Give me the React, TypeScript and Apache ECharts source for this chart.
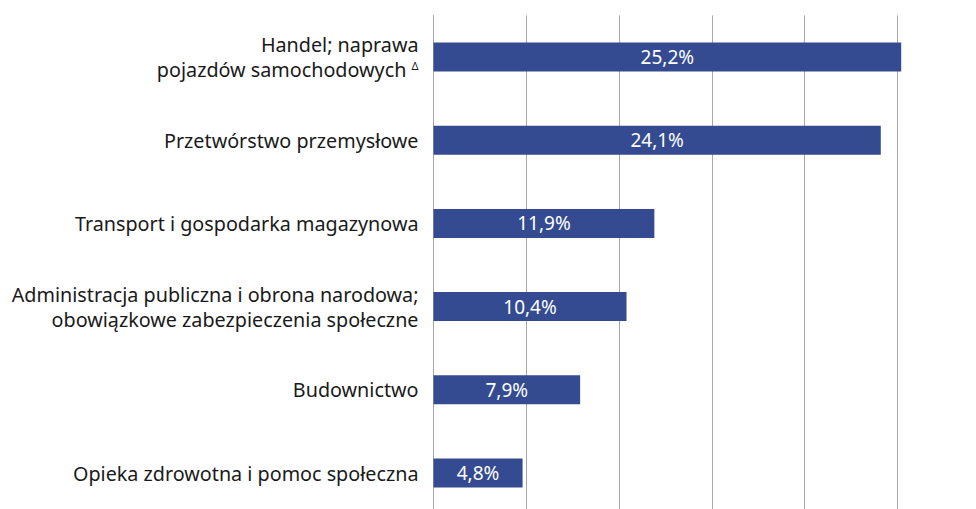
import React, { useEffect, useRef } from "react";
import * as echarts from "echarts";

const categories = [
  "Handel; naprawa\npojazdów samochodowych {sup|Δ}",
  "Przetwórstwo przemysłowe",
  "Transport i gospodarka magazynowa",
  "Administracja publiczna i obrona narodowa;\nobowiązkowe zabezpieczenia społeczne",
  "Budownictwo",
  "Opieka zdrowotna i pomoc społeczna",
];
const values = [25.2, 24.1, 11.9, 10.4, 7.9, 4.8];

const FONT = "'Noto Sans', sans-serif";

export default function App() {
  const ref = useRef<HTMLDivElement>(null);
  useEffect(() => {
    if (!ref.current) return;
    const chart = echarts.init(ref.current, undefined, { renderer: "svg" });
    chart.setOption({
      animation: false,
      grid: { left: 433.5, right: 78.5, top: 15.4, bottom: 0.4, containLabel: false },
      xAxis: {
        type: "value",
        min: 0,
        max: 25,
        interval: 5,
        axisLabel: { show: false },
        axisLine: { show: false },
        axisTick: { show: false },
        splitLine: { show: true, lineStyle: { color: "#a6a6a6", width: 1 } },
      },
      yAxis: {
        type: "category",
        data: categories,
        inverse: true,
        axisTick: { show: false },
        axisLine: { show: true, lineStyle: { color: "#a6a6a6", width: 1 } },
        axisLabel: {
          margin: 15,
          color: "#1a1a1a",
          fontSize: 19.75,
          lineHeight: 25,
          fontFamily: FONT,
          align: "right",
          rich: {
            sup: { fontSize: 11, fontFamily: FONT, color: "#1a1a1a", verticalAlign: "bottom", lineHeight: 11, padding: [0, 0, 11, 0] },
          },
        },
      },
      series: [
        {
          type: "bar",
          data: values,
          barWidth: 29,
          clip: false,
          itemStyle: { color: "#344b92" },
          label: {
            show: true,
            position: "inside",
            color: "#ffffff",
            fontSize: 19,
            fontFamily: FONT,
            formatter: (p: any) => String(p.value).replace(".", ",") + "%",
          },
        },
      ],
    });
    return () => chart.dispose();
  }, []);
  return (
    <div style={{ position: "fixed", left: 0, top: 0, width: 976, height: 509, overflow: "hidden", background: "#fff" }}>
      <div ref={ref} style={{ width: 976, height: 515 }} />
    </div>
  );
}
